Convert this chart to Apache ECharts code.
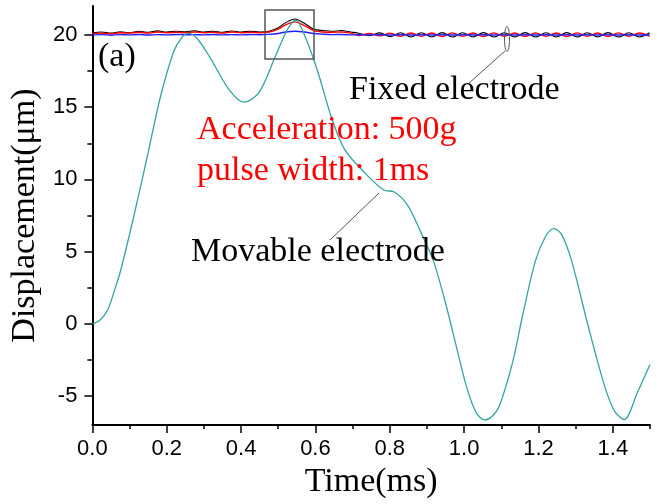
<!DOCTYPE html>
<html>
<head>
<meta charset="utf-8">
<script src="https://cdn.jsdelivr.net/npm/echarts@6/dist/echarts.min.js"></script>
<style>
  html, body { margin: 0; padding: 0; background: #fff; }
  #chart { width: 657px; height: 504px; }
</style>
</head>
<body>
<div id="chart"></div>
<script>
// movable electrode (teal curve)
var movT = [0, 0.02, 0.041, 0.058, 0.076, 0.111, 0.147, 0.182, 0.218, 0.24, 0.258, 0.28, 0.315, 0.368, 0.408, 0.448, 0.492, 0.519, 0.537, 0.548, 0.572, 0.607, 0.643, 0.678, 0.731, 0.785, 0.811, 0.847, 0.882, 0.917, 0.948, 0.979, 1.006, 1.032, 1.055, 1.075, 1.095, 1.13, 1.157, 1.192, 1.22, 1.241, 1.262, 1.289, 1.334, 1.378, 1.405, 1.431, 1.466, 1.5];
var movY = [0, 0.25, 0.96, 2.2, 3.7, 7.4, 11.5, 15.6, 18.8, 19.8, 20.1, 19.8, 18.5, 16.2, 15.35, 16.0, 18.5, 20.1, 20.85, 21.0, 19.9, 17.4, 14.3, 12.1, 10.5, 9.25, 9.15, 8.26, 6.44, 4.38, 1.64, -1.55, -4.3, -6.12, -6.64, -6.4, -5.66, -2.7, 0.55, 4.38, 6.1, 6.6, 6.2, 4.38, -0.18, -4.3, -6.05, -6.62, -4.75, -2.8];

// fixed electrode (three traces near 20)
var fixedT = [0, 0.025, 0.05, 0.075, 0.1, 0.125, 0.15, 0.175, 0.2, 0.225, 0.25, 0.275, 0.3, 0.325, 0.35, 0.375, 0.4, 0.425, 0.45, 0.475, 0.5, 0.52, 0.545, 0.57, 0.595, 0.62, 0.645, 0.67, 0.695,
  0.717, 0.745, 0.773, 0.801, 0.829, 0.857, 0.885, 0.913, 0.941, 0.968, 0.996, 1.024, 1.052, 1.08, 1.108, 1.136, 1.164, 1.192, 1.22, 1.248, 1.276, 1.304, 1.331, 1.359, 1.387, 1.415, 1.443, 1.471, 1.499];
var fixedBlack = [20.15, 20.2, 20.12, 20.22, 20.15, 20.25, 20.18, 20.28, 20.2, 20.25, 20.22, 20.28, 20.2, 20.25, 20.18, 20.27, 20.2, 20.25, 20.2, 20.25, 20.5, 20.85, 21.1, 20.8, 20.4, 20.3, 20.25, 20.3, 20.2,
  20.12, 19.95, 20.14, 19.88, 20.15, 19.86, 20.15, 19.86, 20.16, 19.85, 20.15, 19.86, 20.16, 19.85, 20.15, 19.86, 20.16, 19.85, 20.15, 19.86, 20.16, 19.85, 20.15, 19.86, 20.16, 19.85, 20.15, 19.86, 20.15];
var fixedRed = [20.1, 20.12, 20.08, 20.15, 20.12, 20.18, 20.12, 20.2, 20.15, 20.18, 20.15, 20.2, 20.15, 20.18, 20.12, 20.2, 20.15, 20.18, 20.15, 20.2, 20.4, 20.7, 20.9, 20.65, 20.3, 20.2, 20.18, 20.2, 20.12,
  19.96, 20.1, 19.93, 20.12, 19.9, 20.13, 19.9, 20.13, 19.89, 20.14, 19.9, 20.13, 19.89, 20.14, 19.9, 20.13, 19.89, 20.14, 19.9, 20.13, 19.89, 20.14, 19.9, 20.13, 19.89, 20.14, 19.9, 20.13, 19.9];
var fixedBlue = [20, 20.02, 19.98, 20.02, 20, 20.03, 19.99, 20.02, 20, 20.03, 20.01, 20.02, 20, 20.03, 20, 20.02, 20, 20.03, 20.01, 20.04, 20.1, 20.2, 20.25, 20.2, 20.1, 20.05, 20.02, 20.03, 20.0,
  20.01, 19.99, 20.01, 19.99, 20.01, 19.99, 20.01, 19.99, 20.01, 19.99, 20.01, 19.99, 20.01, 19.99, 20.01, 19.99, 20.01, 19.99, 20.01, 19.99, 20.01, 19.99, 20.01, 19.99, 20.01, 19.99, 20.01, 19.99, 20.01];

var xMajor = [0, 0.2, 0.4, 0.6, 0.8, 1.0, 1.2, 1.4];
var xMinor = [0.1, 0.3, 0.5, 0.7, 0.9, 1.1, 1.3, 1.5];
var yMajor = [-5, 0, 5, 10, 15, 20];
var yMinor = [-2.5, 2.5, 7.5, 12.5, 17.5];

function pairs(xs, ys) {
  var out = [];
  for (var i = 0; i < xs.length; i++) out.push([xs[i], ys[i]]);
  return out;
}

var serif = '"Liberation Serif", "Times New Roman", serif';
var sans = '"Liberation Sans", Arial, sans-serif';

var chart = echarts.init(document.getElementById('chart'));

function lineSeries(data, color, width) {
  return {
    type: 'line',
    data: data,
    showSymbol: false,
    smooth: 0.3,
    lineStyle: { color: color, width: width },
    itemStyle: { color: color },
    animation: false,
    z: 3
  };
}

var option = {
  animation: false,
  grid: { left: 85, right: 7, top: 6, bottom: 74 },
  xAxis: [
    {
      type: 'value', min: 0, max: 1.5, interval: 0.2,
      axisLine: { onZero: false, lineStyle: { color: '#000', width: 2 } },
      axisTick: { length: 8, lineStyle: { color: '#000', width: 1.5 }, customValues: xMajor },
      axisLabel: {
        color: '#000', fontSize: 22, fontFamily: sans, margin: 13,
        customValues: xMajor,
        formatter: function (v) { return v.toFixed(1); }
      },
      splitLine: { show: false },
      name: 'Time(ms)', nameLocation: 'middle', nameGap: 35,
      nameTextStyle: { color: '#000', fontSize: 34, fontFamily: serif }
    },
    {
      type: 'value', min: 0, max: 1.5, position: 'bottom',
      axisLine: { show: false, onZero: false },
      axisTick: { length: 4, lineStyle: { color: '#000', width: 1.5 }, customValues: xMinor },
      axisLabel: { show: false },
      splitLine: { show: false }
    }
  ],
  yAxis: [
    {
      type: 'value', min: -7, max: 22,
      axisLine: { show: true, onZero: false, lineStyle: { color: '#000', width: 2 } },
      axisTick: { show: true, length: 8, lineStyle: { color: '#000', width: 1.5 }, customValues: yMajor },
      axisLabel: { color: '#000', fontSize: 22, fontFamily: sans, margin: 15, customValues: yMajor },
      splitLine: { show: false },
      name: 'Displacement(\u03bcm)', nameLocation: 'middle', nameGap: 42, nameRotate: 90,
      nameTextStyle: { color: '#000', fontSize: 34, fontFamily: serif }
    },
    {
      type: 'value', min: -7, max: 22, position: 'left',
      axisLine: { show: false, onZero: false },
      axisTick: { show: true, length: 5, lineStyle: { color: '#000', width: 1.5 }, customValues: yMinor },
      axisLabel: { show: false },
      splitLine: { show: false }
    }
  ],
  series: [
    lineSeries(pairs(fixedT, fixedBlack), '#000000', 1.1),
    lineSeries(pairs(fixedT, fixedRed), '#ff0000', 1.4),
    lineSeries(pairs(fixedT, fixedBlue), '#1f1fff', 1.4),
    lineSeries(pairs(movT, movY), '#35a3a3', 1.3)
  ],
  graphic: [
    // zoom box around the peak
    { type: 'rect', shape: { x: 265, y: 10, width: 49, height: 49 },
      style: { fill: 'none', stroke: '#555', lineWidth: 1.5 }, z: 10 },
    // small ellipse + leader for fixed electrode
    { type: 'ellipse', shape: { cx: 507, cy: 39, rx: 2.5, ry: 12.5 },
      style: { fill: 'none', stroke: '#555', lineWidth: 1 }, z: 10 },
    { type: 'line', shape: { x1: 505, y1: 51, x2: 468, y2: 84 },
      style: { stroke: '#555', lineWidth: 1 }, z: 10 },
    // leader for movable electrode
    { type: 'line', shape: { x1: 379, y1: 193, x2: 330, y2: 240 },
      style: { stroke: '#555', lineWidth: 1 }, z: 10 },
    { type: 'text', x: 98, y: 57,
      style: { text: '(a)', font: '34px ' + serif, fill: '#000', verticalAlign: 'middle' }, z: 10 },
    { type: 'text', x: 349, y: 90,
      style: { text: 'Fixed electrode', font: '34px ' + serif, fill: '#000', verticalAlign: 'middle' }, z: 10 },
    { type: 'text', x: 197, y: 130,
      style: { text: 'Acceleration: 500g', font: '34px ' + serif, fill: '#ff0000', verticalAlign: 'middle' }, z: 10 },
    { type: 'text', x: 197, y: 171,
      style: { text: 'pulse width: 1ms', font: '34px ' + serif, fill: '#ff0000', verticalAlign: 'middle' }, z: 10 },
    { type: 'text', x: 191, y: 252,
      style: { text: 'Movable electrode', font: '34px ' + serif, fill: '#000', verticalAlign: 'middle' }, z: 10 }
  ]
};

chart.setOption(option);
</script>
</body>
</html>
